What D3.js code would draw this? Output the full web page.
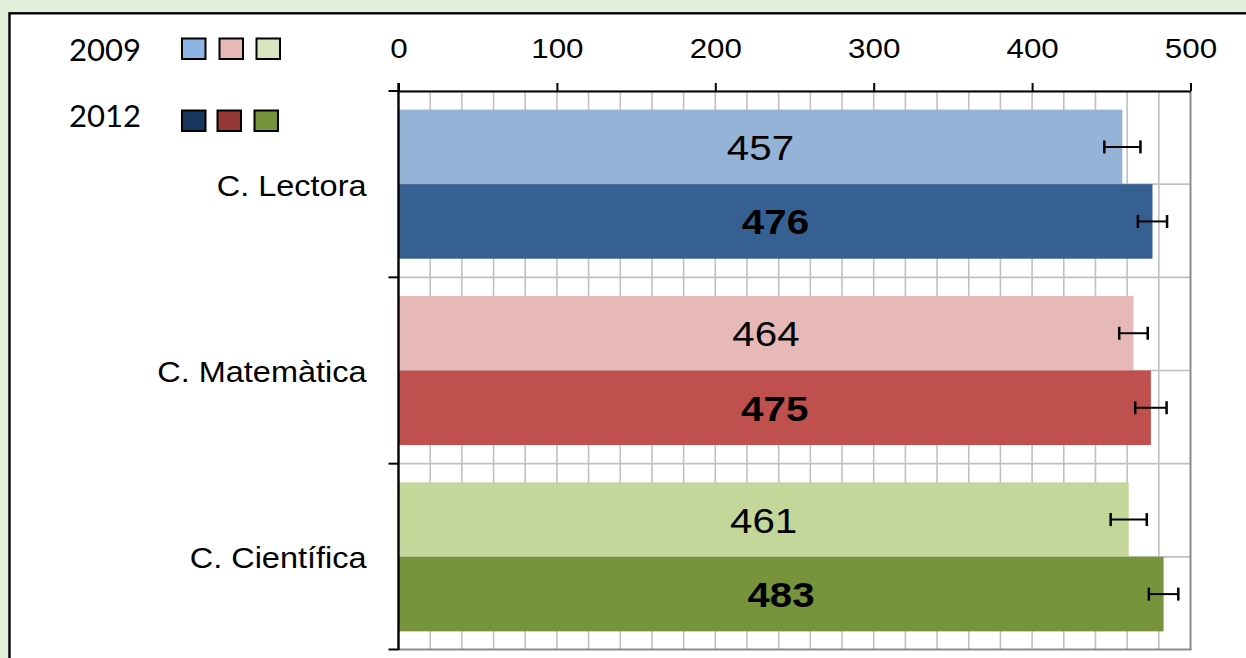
<!DOCTYPE html>
<html><head><meta charset="utf-8">
<script src="https://cdn.jsdelivr.net/npm/d3@7"></script>
<style>html,body{margin:0;padding:0;background:#E2EFDA;overflow:hidden} svg{display:block}</style>
</head><body><svg id="c" width="1246" height="658"></svg>
<script>
const categories = ["C. Lectora", "C. Matemàtica", "C. Científica"];
const years = ["2009", "2012"];
const values2009 = [457, 464, 461];
const values2012 = [476, 475, 483];
const errors2009 = [11.4, 9.0, 11.4];
const errors2012 = [9.2, 9.9, 9.3];
const xTicks = [0, 100, 200, 300, 400, 500];
const colors2009 = ["#95B3D7", "#E6B9B8", "#C4D79B"];
const colors2012 = ["#366092", "#C0504D", "#77933C"];
const legendColors2009 = ["#8EB4E3", "#E6B9B8", "#D7E4BD"];
const legendColors2012 = ["#17375E", "#953735", "#77933C"];

const rows = [];
categories.forEach((c, i) => {
  rows.push({cat: c, year: "2009", v: values2009[i], e: errors2009[i], color: colors2009[i]});
  rows.push({cat: c, year: "2012", v: values2012[i], e: errors2012[i], color: colors2012[i]});
});

const svg = d3.select("#c");
const W = 1246, H = 658;
const plot = {left: 398.5, right: 1190.5, top: 91, bottom: 650};
const SX = 1.12; // horizontal text stretch
const ARIAL = "'Liberation Sans', Arial, sans-serif";

svg.append("rect").attr("width", W).attr("height", H).attr("fill", "#E2EFDA");
svg.append("rect").attr("x", 9.5).attr("y", 13.3).attr("width", W + 20).attr("height", H + 20)
  .attr("fill", "#fff").attr("stroke", "#000").attr("stroke-width", 2.4);

const x = d3.scaleLinear().domain([0, 500]).range([plot.left, plot.right]);
const y = d3.scaleBand().domain(categories).range([plot.top, plot.bottom]).paddingInner(0).paddingOuter(0);
const yInner = d3.scaleBand().domain(years).range([0, y.bandwidth()]).paddingInner(0).paddingOuter(0.25);

// vertical gridlines (every 20)
const grid = svg.append("g");
grid.selectAll("line.v").data(d3.range(20, 500, 20)).join("line")
  .attr("x1", d => x(d)).attr("x2", d => x(d)).attr("y1", plot.top).attr("y2", plot.bottom)
  .attr("stroke", "#C0C0C0").attr("stroke-width", 1.6);
// horizontal gridlines (band boundaries & midpoints)
const hLines = [];
categories.forEach(c => { hLines.push(y(c)); hLines.push(y(c) + y.bandwidth() / 2); });
grid.selectAll("line.h").data(hLines).join("line")
  .attr("x1", plot.left).attr("x2", plot.right).attr("y1", d => d).attr("y2", d => d)
  .attr("stroke", "#C0C0C0").attr("stroke-width", 1.6);
// plot area right & bottom border
svg.append("line").attr("x1", plot.right).attr("x2", plot.right).attr("y1", plot.top).attr("y2", plot.bottom)
  .attr("stroke", "#8C8C8C").attr("stroke-width", 2);
svg.append("line").attr("x1", plot.left).attr("x2", plot.right + 1).attr("y1", plot.bottom - 0.5).attr("y2", plot.bottom - 0.5)
  .attr("stroke", "#8C8C8C").attr("stroke-width", 2);

// bars
svg.append("g").selectAll("rect").data(rows).join("rect")
  .attr("x", x(0)).attr("y", d => y(d.cat) + yInner(d.year))
  .attr("width", d => x(d.v) - x(0)).attr("height", yInner.bandwidth())
  .attr("fill", d => d.color);

// error bars
const eb = svg.append("g").attr("stroke", "#000");
rows.forEach(d => {
  const cy = y(d.cat) + yInner(d.year) + yInner.bandwidth() / 2;
  eb.append("line").attr("x1", x(d.v - d.e)).attr("x2", x(d.v + d.e)).attr("y1", cy).attr("y2", cy).attr("stroke-width", 2);
  [d.v - d.e, d.v + d.e].forEach(v => {
    eb.append("line").attr("x1", x(v)).attr("x2", x(v)).attr("y1", cy - 6.5).attr("y2", cy + 6.5).attr("stroke-width", 2.5);
  });
});

// value labels
svg.append("g").selectAll("text").data(rows).join("text")
  .attr("transform", d => {
    const cx = (x(0) + x(d.v)) / 2;
    const cy = y(d.cat) + yInner(d.year) + yInner.bandwidth() / 2;
    return `translate(${cx},${cy + 13}) scale(${SX},1)`;
  })
  .attr("text-anchor", "middle")
  .attr("font-family", ARIAL)
  .attr("font-size", d => d.year === "2012" ? 36 : 36)
  .attr("font-weight", d => d.year === "2012" ? "bold" : "normal")
  .attr("fill", "#000")
  .text(d => d.v);

// top axis
const axisG = svg.append("g").attr("transform", `translate(0,${plot.top})`)
  .call(d3.axisTop(x).tickValues(xTicks).tickSize(8).tickPadding(25).tickSizeOuter(0));
axisG.select(".domain").attr("stroke", "#000").attr("stroke-width", 2);
axisG.selectAll(".tick line").attr("stroke", "#000").attr("stroke-width", 2);
axisG.selectAll(".tick text").attr("font-family", ARIAL).attr("font-size", 28).attr("fill", "#000")
  .attr("dy", 0).attr("y", -33).attr("transform", `scale(${SX},1)`);

// left axis line & ticks at band boundaries
svg.append("line").attr("x1", plot.left).attr("x2", plot.left).attr("y1", plot.top - 8).attr("y2", plot.bottom)
  .attr("stroke", "#000").attr("stroke-width", 2.4);
const bounds = categories.map(c => y(c)).concat([plot.bottom - 0.5]);
svg.append("g").selectAll("line").data(bounds).join("line")
  .attr("x1", plot.left - 10).attr("x2", plot.left).attr("y1", d => d).attr("y2", d => d)
  .attr("stroke", "#000").attr("stroke-width", 2);

// category labels
svg.append("g").selectAll("text").data(categories).join("text")
  .attr("transform", d => `translate(366.5,${y(d) + y.bandwidth() / 2 + 11.5}) scale(${SX},1)`)
  .attr("text-anchor", "end").attr("font-family", ARIAL).attr("font-size", 29).attr("fill", "#000")
  .text(d => d);

// legend
const legendRows = [
  {year: years[0], colors: legendColors2009, ty: 60.5, sy: 38.5, xs: [182, 219.5, 256.5]},
  {year: years[1], colors: legendColors2012, ty: 126.5, sy: 110.5, xs: [182, 217.5, 254.5]}
];
const lg = svg.append("g");
legendRows.forEach(r => {
  lg.append("text").attr("x", 69).attr("y", r.ty).attr("font-family", "Lato, 'Open Sans', sans-serif")
    .attr("font-size", 31).attr("fill", "#000").text(r.year);
  r.colors.forEach((c, i) => {
    lg.append("rect").attr("x", r.xs[i]).attr("y", r.sy).attr("width", 23.5).attr("height", 20.5)
      .attr("fill", c).attr("stroke", "#000").attr("stroke-width", 2);
  });
});
</script>
</body></html>
